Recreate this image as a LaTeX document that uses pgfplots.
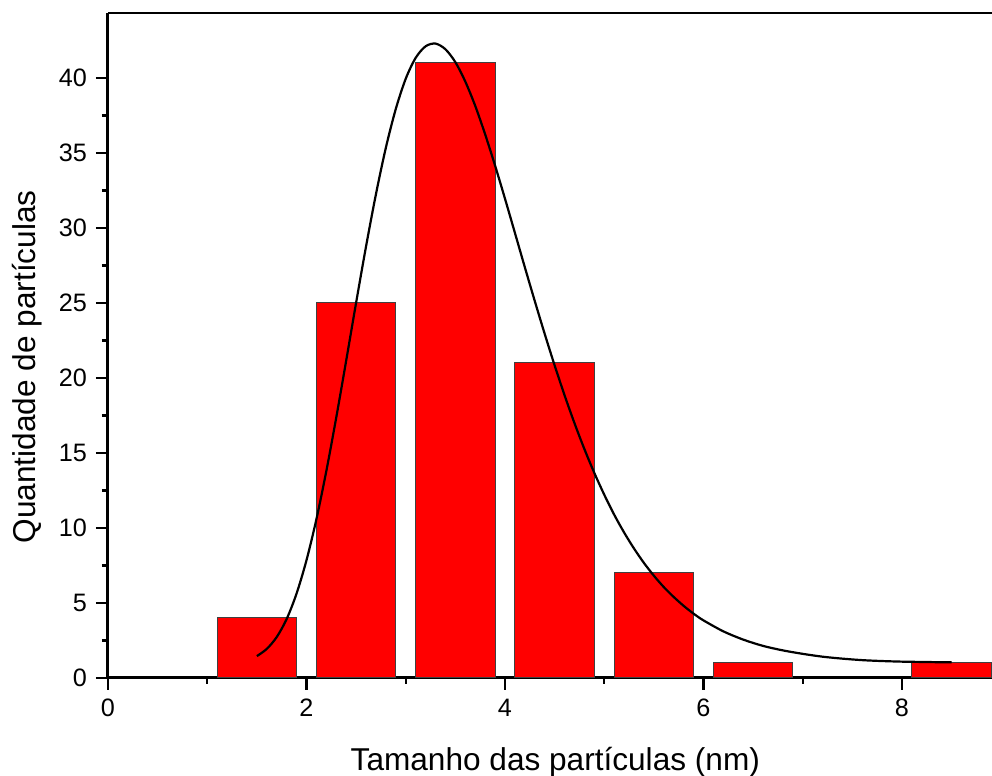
\documentclass[border=0pt]{standalone}
\usepackage{fontspec}
\setmainfont{Liberation Sans}
\usepackage{pgfplots}
\pgfplotsset{compat=1.18}
\begin{document}
\begin{tikzpicture}
\begin{axis}[
  scale only axis,
  width=442pt, height=332.5pt,
  xmin=0, xmax=8.907, ymin=0, ymax=44.33,
  axis lines*=left,
  axis line style={line width=1.5pt, black},
  xtick={0,2,4,6,8}, ytick={0,5,...,40},
  minor x tick num=1, minor y tick num=1,
  tick align=outside,
  major tick length=6pt, minor tick length=3pt,
  every tick/.style={black, line width=1.2pt},
  /pgf/number format/assume math mode=true,
  tick label style={font=\fontsize{12.6}{15}\selectfont},
  xticklabel style={yshift=-1pt},
  yticklabel style={xshift=-1pt},
  xlabel={Tamanho das partículas (nm)},
  ylabel={Quantidade de partículas},
  every axis x label/.style={at={(axis description cs:0.506,-0.126)}, anchor=center, font=\fontsize{15.8}{19}\selectfont},
  every axis y label/.style={at={(axis description cs:-0.0916,0.468)}, anchor=center, rotate=90, font=\fontsize{15.8}{19}\selectfont},
  clip=true,
]
\addplot[ybar, bar width=0.8, bar shift=0pt, fill=red, draw=black!75, line width=0.5pt]
  coordinates {(1.5,4) (2.5,25) (3.5,41) (4.5,21) (5.5,7) (6.5,1) (8.5,1)};
\addplot[black, line width=1.1pt, smooth, no marks] coordinates {
(1.5,1.46) (1.6,1.94) (1.7,2.73) (1.8,3.93) (1.9,5.63) (2.0,7.85) (2.1,10.59)
(2.2,13.80) (2.3,17.37) (2.4,21.16) (2.5,25.02) (2.6,28.77) (2.7,32.26) (2.8,35.36)
(2.9,37.94) (3.0,39.95) (3.1,41.34) (3.2,42.11) (3.3,42.29) (3.4,41.91) (3.5,41.05)
(3.6,39.76) (3.7,38.14) (3.8,36.24) (3.9,34.16) (4.0,31.95) (4.1,29.67) (4.2,27.38)
(4.3,25.13) (4.4,22.94) (4.5,20.84) (4.6,18.85) (4.7,16.99) (4.8,15.26) (4.9,13.67)
(5.0,12.22) (5.1,10.89) (5.2,9.70) (5.3,8.63) (5.4,7.67) (5.5,6.82) (5.6,6.06)
(5.7,5.40) (5.8,4.81) (5.9,4.29) (6.0,3.84) (6.2,3.11) (6.4,2.56) (6.6,2.14)
(6.8,1.84) (7.0,1.61) (7.2,1.42) (7.4,1.29) (7.6,1.19) (7.8,1.13) (8.0,1.09)
(8.2,1.07) (8.4,1.05) (8.5,1.05)};
\draw[line width=1.5pt, black] (rel axis cs:0,1) -- (rel axis cs:1,1);
\coordinate (o) at (rel axis cs:0,0);
\coordinate (tr) at (rel axis cs:1,1);
\end{axis}
\pgfresetboundingbox
\path[use as bounding box] ([xshift=-54pt,yshift=-49pt]o) rectangle ([yshift=6.5pt]tr);
\end{tikzpicture}
\end{document}
